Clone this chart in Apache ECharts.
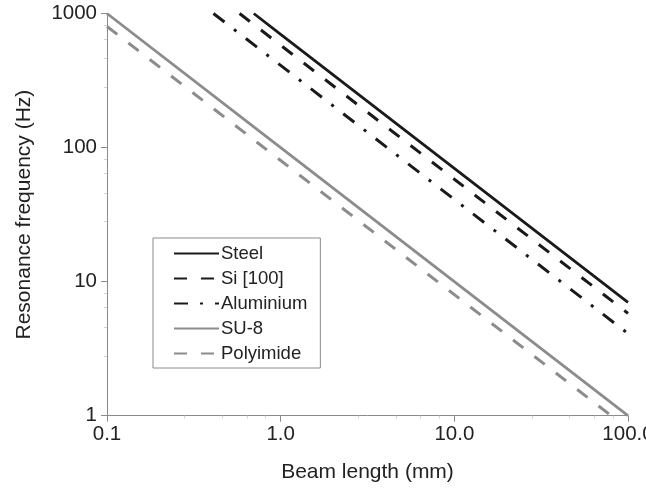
<!DOCTYPE html>
<html>
<head>
<meta charset="utf-8">
<script src="https://cdn.jsdelivr.net/npm/echarts@6/dist/echarts.min.js"></script>
<style>
html,body{margin:0;padding:0;background:#fff;}
#chart{width:646px;height:490px;}
</style>
</head>
<body>
<div id="chart"></div>
<script>
// Data (beam length in mm, resonance frequency in Hz)
var seriesNames = ['Steel', 'Si [100]', 'Aluminium', 'SU-8', 'Polyimide'];
var steelLength = [0.7, 1, 10, 100];
var steelFreq = [1000, 700, 70, 7];
var siLength = [0.58, 1, 10, 100];
var siFreq = [1000, 580, 58, 5.8];
var alLength = [0.41, 1, 10, 100];
var alFreq = [1000, 410, 41, 4.1];
var su8Length = [0.1, 1, 10, 100];
var su8Freq = [1000, 100, 10, 1];
var polyLength = [0.1, 1, 10, 80];
var polyFreq = [800, 80, 8, 1];
var xTickLabels = {0.1: '0.1', 1: '1.0', 10: '10.0', 100: '100.0'};
var yTickLabels = {1: '1', 10: '10', 100: '100', 1000: '1000'};

function pairs(xs, ys) {
  return xs.map(function (x, i) { return [x, ys[i]]; });
}

var font = 'Liberation Sans, Arial, Helvetica, sans-serif';
var chart = echarts.init(document.getElementById('chart'), null, {renderer: 'canvas'});

function lineSeries(name, data, color, type, width) {
  return {
    name: name,
    type: 'line',
    data: data,
    showSymbol: false,
    symbol: 'none',
    clip: true,
    lineStyle: {color: color, width: width, type: type, cap: 'butt'},
    itemStyle: {color: color},
    emphasis: {disabled: true},
    animation: false
  };
}

chart.setOption({
  animation: false,
  grid: {left: 107, right: 18, top: 13.5, bottom: 74.3, containLabel: false, outerBoundsMode: 'none'},
  legend: {
    orient: 'vertical',
    left: 153,
    top: 238,
    data: seriesNames,
    itemWidth: 45,
    itemHeight: 14,
    itemGap: 6,
    padding: [6, 13, 5, 20],
    borderColor: '#8a8a8a',
    borderWidth: 1,
    backgroundColor: '#fff',
    itemStyle: {opacity: 0},
    textStyle: {fontFamily: font, fontSize: 18.5, color: '#222', padding: [0, 0, 0, -3]},
    selectedMode: false
  },
  xAxis: {
    type: 'log',
    logBase: 10,
    min: 0.1,
    max: 100,
    name: 'Beam length (mm)',
    nameLocation: 'middle',
    nameGap: 46,
    nameTextStyle: {fontFamily: font, fontSize: 21, color: '#222'},
    axisLine: {show: true, lineStyle: {color: '#8a8a8a', width: 1}},
    axisTick: {show: true, length: 6, lineStyle: {color: '#8a8a8a'}},
    minorTick: {show: true, splitNumber: 5, length: 3, lineStyle: {color: '#d6d6d6'}},
    splitLine: {show: false},
    axisLabel: {
      fontFamily: font, fontSize: 20.5, color: '#222', margin: 8,
      formatter: function (v) { return xTickLabels[v] !== undefined ? xTickLabels[v] : ''; }
    }
  },
  yAxis: {
    type: 'log',
    logBase: 10,
    min: 1,
    max: 1000,
    name: 'Resonance frequency (Hz)',
    nameLocation: 'middle',
    nameGap: 72.5,
    nameTextStyle: {fontFamily: font, fontSize: 21, color: '#222'},
    axisLine: {show: true, lineStyle: {color: '#8a8a8a', width: 1}},
    axisTick: {show: true, length: 6, lineStyle: {color: '#8a8a8a'}},
    minorTick: {show: true, splitNumber: 5, length: 3, lineStyle: {color: '#d6d6d6'}},
    splitLine: {show: false},
    axisLabel: {
      fontFamily: font, fontSize: 20.5, color: '#222', margin: 10,
      formatter: function (v) { return yTickLabels[v] !== undefined ? yTickLabels[v] : ''; }
    }
  },
  series: [
    lineSeries(seriesNames[0], pairs(steelLength, steelFreq), '#1a1a1a', 'solid', 2.8),
    lineSeries(seriesNames[1], pairs(siLength, siFreq), '#1a1a1a', [13, 14], 3),
    lineSeries(seriesNames[2], pairs(alLength, alFreq), '#1a1a1a', [14, 12, 3, 12], 3),
    lineSeries(seriesNames[3], pairs(su8Length, su8Freq), '#8c8c8c', 'solid', 2.8),
    lineSeries(seriesNames[4], pairs(polyLength, polyFreq), '#8c8c8c', [13, 14], 3)
  ]
});
</script>
</body>
</html>
